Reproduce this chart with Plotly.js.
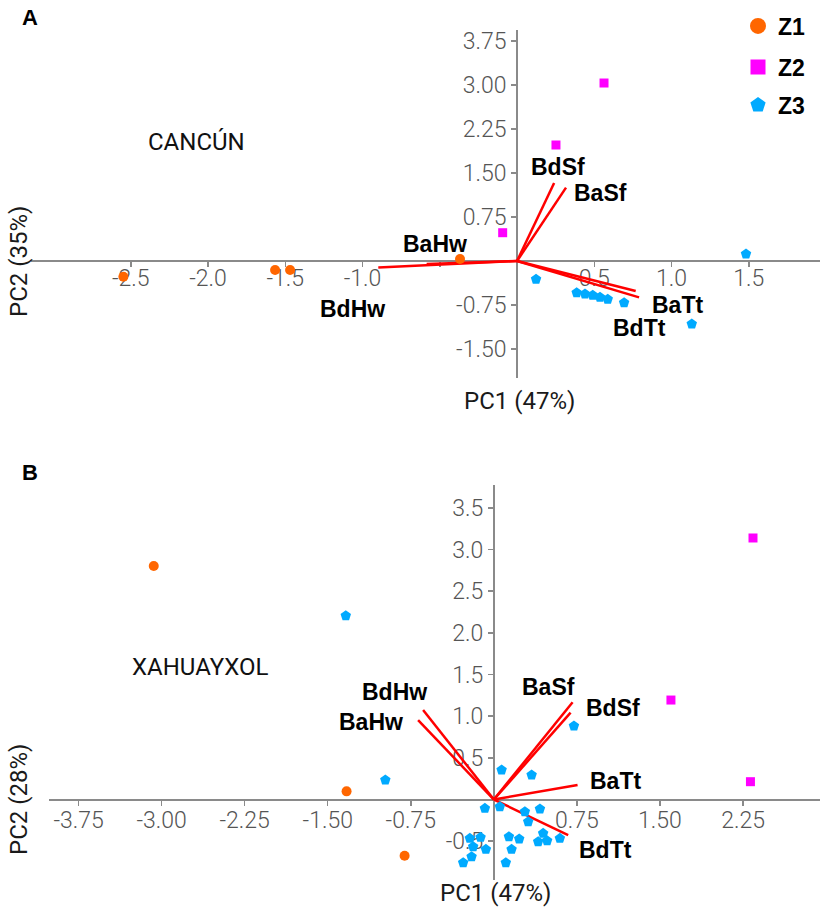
<!DOCTYPE html>
<html>
<head>
<meta charset="utf-8">
<script src="https://cdn.plot.ly/plotly-3.0.1.min.js"></script>
<style>html,body{margin:0;padding:0;background:#fff}#chart{width:820px;height:916px}</style>
</head>
<body>
<div id="chart"></div>
<script>
// ---------- Panel A (CANCÚN) ----------
const A_z1_x = [-2.548, -1.566, -1.469, -0.369];
const A_z1_y = [-0.267, -0.153, -0.153, 0.034];
const A_z2_x = [0.563, 0.252, -0.093];
const A_z2_y = [3.032, 1.976, 0.482];
const A_z3_x = [1.482, 0.123, 0.386, 0.440, 0.490, 0.537, 0.587, 0.693, 1.131];
const A_z3_y = [0.119, -0.312, -0.540, -0.562, -0.584, -0.618, -0.652, -0.710, -1.073];
const A_load_names = ['BaHw', 'BdHw', 'BdSf', 'BaSf', 'BaTt', 'BdTt'];
const A_load_x = [-0.585, -0.898, 0.240, 0.317, 0.768, 0.790];
const A_load_y = [-0.050, -0.110, 1.330, 1.250, -0.510, -0.620];
const A_xtickvals = [-2.5, -2.0, -1.5, -1.0, -0.5, 0.5, 1.0, 1.5];
const A_xticktext = ['-2.5', '-2.0', '-1.5', '-1.0', '', '0.5', '1.0', '1.5'];
const A_ytickvals = [-1.5, -0.75, 0.75, 1.5, 2.25, 3.0, 3.75];
const A_yticktext = ['-1.50', '-0.75', '0.75', '1.50', '2.25', '3.00', '3.75'];

// ---------- Panel B (XAHUAYXOL) ----------
const B_z1_x = [-3.071, -1.330, -0.806];
const B_z1_y = [2.803, 0.098, -0.675];
const B_z2_x = [2.340, 1.599, 2.317];
const B_z2_y = [3.139, 1.194, 0.214];
const B_z3_x = [-1.337, -0.980, 0.070, 0.341, 0.723, -0.081, 0.054, 0.280, 0.416, 0.310, 0.445, 0.596, 0.400, 0.481, 0.136, 0.229, 0.160, 0.108, -0.217, -0.120, -0.187, -0.072, -0.201, -0.277];
const B_z3_y = [2.206, 0.234, 0.354, 0.294, 0.882, -0.106, -0.086, -0.146, -0.114, -0.266, -0.406, -0.466, -0.507, -0.495, -0.447, -0.474, -0.598, -0.759, -0.466, -0.454, -0.567, -0.598, -0.687, -0.759];
const B_load_names = ['BdHw', 'BaHw', 'BaSf', 'BdSf', 'BaTt', 'BdTt'];
const B_load_x = [-0.639, -0.684, 0.711, 0.693, 0.756, 0.671];
const B_load_y = [1.075, 0.954, 1.167, 1.042, 0.174, -0.426];
const B_xtickvals = [-3.75, -3.0, -2.25, -1.5, -0.75, 0.75, 1.5, 2.25];
const B_xticktext = ['-3.75', '-3.00', '-2.25', '-1.50', '-0.75', '0.75', '1.50', '2.25'];
const B_ytickvals = [-0.5, 0.5, 1.0, 1.5, 2.0, 2.5, 3.0, 3.5];
const B_yticktext = ['-0.5', '0.5', '1.0', '1.5', '2.0', '2.5', '3.0', '3.5'];

const groupNames = ['Z1', 'Z2', 'Z3'];

// ---------- styles ----------
const W = 820, H = 916;
const colors = {Z1: '#ff6600', Z2: '#ff00ff', Z3: '#00aaff'};
const symbols = {Z1: 'circle', Z2: 'square', Z3: 'pentagon'};
const sizes = {Z1: 10, Z2: 9, Z3: 11};
const legSizes = {Z1: 16, Z2: 15, Z3: 16};
const axisColor = '#8a8a8a';
const tickFont = {family: 'Roboto, "Liberation Sans", sans-serif', weight: 300, size: 23, color: '#555555'};
const boldFont = {family: '"Liberation Sans", Arial, sans-serif', size: 23, color: '#000000', weight: 'bold'};
const titleFont = {family: 'Roboto, "Liberation Sans", sans-serif', weight: 400, size: 24, color: '#1a1a1a'};

// label offsets (pixels) relative to the vector tips
const A_lab_dx = [8, -26, 4, 34, 42, 0];
const A_lab_dy = [20, -42, 16, -5, -14, -31];
const B_lab_dx = [-29, -47, -24, 42, 38, 37];
const B_lab_dy = [18, -2, 15, 5, 4, -15];

// pixel boxes of the two panels (axis line extents)
const boxA = {x0: 31, x1: 820, y0: 30, y1: 378, xr: [-3.146, 1.961], yr: [-1.993, 3.935], xstand: -9};
const boxB = {x0: 49, x1: 820, y0: 485, y1: 880, xr: [-4.017, 2.945], yr: [-0.966, 3.775], xstand: -5};

function domX(b) { return [b.x0 / W, b.x1 / W]; }
function domY(b) { return [(H - b.y1) / H, (H - b.y0) / H]; }
function crossPosX(b) {
  const d = domX(b); return d[0] + (0 - b.xr[0]) / (b.xr[1] - b.xr[0]) * (d[1] - d[0]);
}
function crossPosY(b) {
  const d = domY(b); return d[0] + (0 - b.yr[0]) / (b.yr[1] - b.yr[0]) * (d[1] - d[0]);
}

function vecTrace(xs, ys, xa, ya) {
  const x = [], y = [];
  for (let i = 0; i < xs.length; i++) { x.push(0, xs[i], null); y.push(0, ys[i], null); }
  return {x: x, y: y, xaxis: xa, yaxis: ya, mode: 'lines', type: 'scatter',
          line: {color: '#ff0000', width: 2.5}, showlegend: false, hoverinfo: 'skip'};
}
function ptTrace(g, xs, ys, xa, ya) {
  return {x: xs, y: ys, xaxis: xa, yaxis: ya, mode: 'markers', type: 'scatter', name: g,
          marker: {color: colors[g], symbol: symbols[g], size: sizes[g], line: {width: 0}},
          showlegend: false};
}
function legTrace(g, legId) {
  return {x: [null], y: [null], xaxis: 'x', yaxis: 'y', mode: 'markers', type: 'scatter', name: g,
          marker: {color: colors[g], symbol: symbols[g], size: legSizes[g], line: {width: 0}},
          showlegend: true, legend: legId};
}

const A_groups = {Z1: [A_z1_x, A_z1_y], Z2: [A_z2_x, A_z2_y], Z3: [A_z3_x, A_z3_y]};
const B_groups = {Z1: [B_z1_x, B_z1_y], Z2: [B_z2_x, B_z2_y], Z3: [B_z3_x, B_z3_y]};
const legIds = ['legend', 'legend2', 'legend3'];

const data = [vecTrace(A_load_x, A_load_y, 'x', 'y'), vecTrace(B_load_x, B_load_y, 'x2', 'y2')];
groupNames.forEach((g) => data.push(ptTrace(g, A_groups[g][0], A_groups[g][1], 'x', 'y')));
groupNames.forEach((g) => data.push(ptTrace(g, B_groups[g][0], B_groups[g][1], 'x2', 'y2')));
groupNames.forEach((g, i) => data.push(legTrace(g, legIds[i])));

function xAxis(b, tv, tt) {
  return {domain: domX(b), range: b.xr, anchor: 'free', position: crossPosY(b), side: 'bottom',
          showline: true, linecolor: axisColor, linewidth: 2, showgrid: false, zeroline: false,
          ticks: 'outside', ticklen: 5, tickwidth: 1.5, tickcolor: axisColor, ticklabelstandoff: b.xstand,
          layer: 'below traces',
          tickmode: 'array', tickvals: tv, ticktext: tt, tickfont: tickFont, fixedrange: true};
}
function yAxis(b, tv, tt) {
  return {domain: domY(b), range: b.yr, anchor: 'free', position: crossPosX(b), side: 'left',
          showline: true, linecolor: axisColor, linewidth: 2, showgrid: false, zeroline: false,
          ticks: 'outside', ticklen: 5, tickwidth: 1.5, tickcolor: axisColor,
          layer: 'below traces',
          tickmode: 'array', tickvals: tv, ticktext: tt, tickfont: tickFont, fixedrange: true};
}

const annotations = [];
function addLabels(names, xs, ys, dx, dy, xr, yr) {
  names.forEach((n, i) => {
    annotations.push({x: xs[i], y: ys[i], xref: xr, yref: yr, text: '<b>' + n + '</b>', showarrow: false,
                      xshift: dx[i], yshift: dy[i], xanchor: 'center', yanchor: 'middle', font: boldFont});
  });
}
addLabels(A_load_names, A_load_x, A_load_y, A_lab_dx, A_lab_dy, 'x', 'y');
addLabels(B_load_names, B_load_x, B_load_y, B_lab_dx, B_lab_dy, 'x2', 'y2');

function paperAnn(text, px, py, font, extra) {
  return Object.assign({x: px / W, y: (H - py) / H, xref: 'paper', yref: 'paper', text: text,
                        showarrow: false, xanchor: 'center', yanchor: 'middle', font: font}, extra || {});
}
const panelFont = {family: '"Liberation Sans", Arial, sans-serif', size: 22, color: '#000', weight: 'bold'};
const siteFont = {family: 'Roboto, "Liberation Sans", sans-serif', weight: 400, size: 24, color: '#111'};
annotations.push(paperAnn('<b>A</b>', 30, 18, panelFont));
annotations.push(paperAnn('<b>B</b>', 30, 472, panelFont));
annotations.push(paperAnn('CANCÚN', 196, 142, siteFont));
annotations.push(paperAnn('XAHUAYXOL', 200, 667, siteFont));
annotations.push(paperAnn('PC1 (47%)', 519, 401, titleFont));
annotations.push(paperAnn('PC1 (47%)', 495, 893, titleFont));
annotations.push(paperAnn('PC2 (35%)', 19, 262, titleFont, {textangle: -90}));
annotations.push(paperAnn('PC2 (28%)', 19, 800, titleFont, {textangle: -90}));

function legend(py) {
  return {x: 738 / W, y: (H - py) / H, xanchor: 'left', yanchor: 'middle', bgcolor: 'rgba(0,0,0,0)',
          borderwidth: 0, font: {family: '"Liberation Sans", Arial, sans-serif', size: 23, color: '#000', weight: 'bold'},
          itemsizing: 'trace'};
}

const layout = {
  width: W, height: H,
  margin: {l: 0, r: 0, t: 0, b: 0, pad: 0},
  paper_bgcolor: '#ffffff', plot_bgcolor: 'rgba(0,0,0,0)',
  xaxis: xAxis(boxA, A_xtickvals, A_xticktext),
  yaxis: yAxis(boxA, A_ytickvals, A_yticktext),
  xaxis2: xAxis(boxB, B_xtickvals, B_xticktext),
  yaxis2: yAxis(boxB, B_ytickvals, B_yticktext),
  showlegend: true,
  legend: legend(26),
  legend2: legend(67),
  legend3: legend(105),
  annotations: annotations,
  hovermode: false
};

Plotly.newPlot('chart', data, layout, {displayModeBar: false, staticPlot: true});
</script>
</body>
</html>
